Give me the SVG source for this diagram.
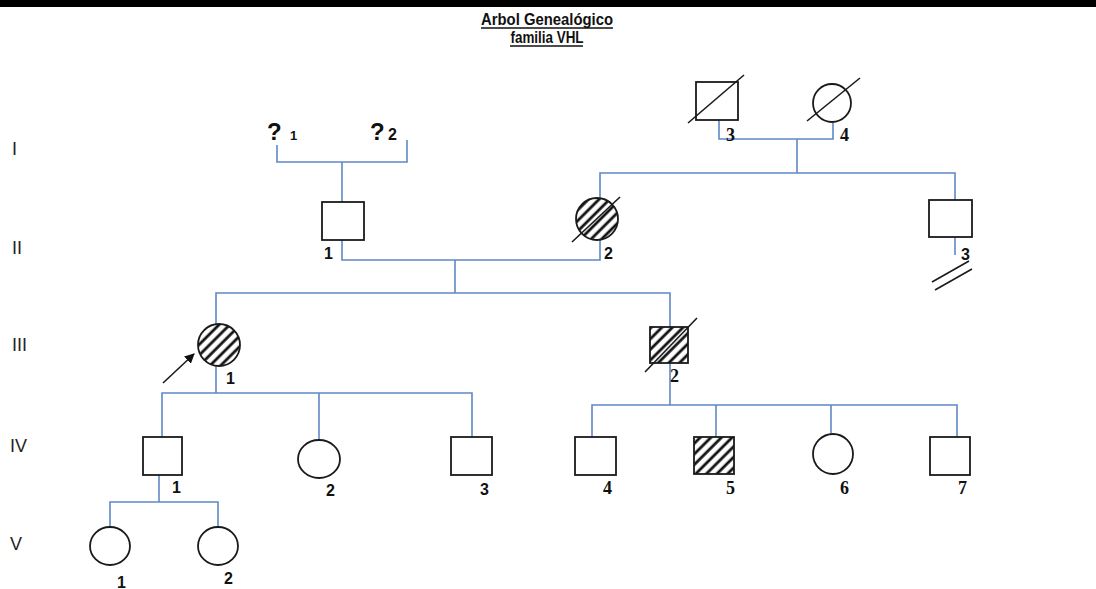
<svg xmlns="http://www.w3.org/2000/svg" width="1096" height="589" viewBox="0 0 1096 589">
  <defs>
    <pattern id="hatch" patternUnits="userSpaceOnUse" width="7.5" height="7.5" patternTransform="rotate(45)">
      <rect width="7.5" height="7.5" fill="#fff"/>
      <line x1="2" y1="0" x2="2" y2="7.5" stroke="#111" stroke-width="2.8"/>
    </pattern>
    <marker id="arrowhead" viewBox="0 0 10 10" refX="9" refY="5" markerWidth="10" markerHeight="10" orient="auto" markerUnits="userSpaceOnUse">
      <path d="M0,0 L10,5 L0,10 z" fill="#111"/>
    </marker>
  </defs>
  <style>
    .ln { stroke: #5f88c6; stroke-width: 1.6; fill: none; }
    .sym { stroke: #1a1a1a; stroke-width: 1.8; fill: #fff; }
    .aff { fill: url(#hatch); }
    .dec { stroke: #1a1a1a; stroke-width: 1.6; }
    .lbl { font-family: "Liberation Sans", Arial, sans-serif; font-weight: bold; font-size: 16px; fill: #111; }
    .lbs { font-family: "Liberation Serif", "Times New Roman", serif; font-weight: bold; font-size: 18px; fill: #111; }
    .q { font-size: 24px; }
    .sub1 { font-size: 13px; }
    .gen { font-family: "Liberation Sans Narrow", "Liberation Sans", Arial, sans-serif; font-size: 18px; fill: #222; }
    .ttl { font-family: "Liberation Sans Narrow", "Liberation Sans", Arial, sans-serif; font-weight: bold; font-size: 16px; fill: #111; }
  </style>

  <rect x="0" y="0" width="1096" height="589" fill="#fff"/>
  <rect x="0" y="0" width="1096" height="7" fill="#000"/>

  <!-- title -->
  <g id="title">
    <text class="ttl" x="547" y="25" text-anchor="middle" textLength="132" lengthAdjust="spacingAndGlyphs">Arbol Genealógico</text>
    <line x1="481" y1="28" x2="613" y2="28" stroke="#111" stroke-width="1.4"/>
    <text class="ttl" x="547" y="43" text-anchor="middle" textLength="73" lengthAdjust="spacingAndGlyphs">familia VHL</text>
    <line x1="510" y1="46" x2="583" y2="46" stroke="#111" stroke-width="1.4"/>
  </g>

  <!-- generation numerals -->
  <g id="generations">
    <text class="gen" x="12" y="155">I</text>
    <text class="gen" x="12" y="254">II</text>
    <text class="gen" x="12" y="351">III</text>
    <text class="gen" x="10" y="452">IV</text>
    <text class="gen" x="10" y="550">V</text>
  </g>

  <!-- lines of descent -->
  <g id="connectors">
    <path class="ln" d="M277,145 V162 H407 V140"/>
    <path class="ln" d="M342,162 V202"/>
    <path class="ln" d="M719,120 V139 H833 V123"/>
    <path class="ln" d="M797,139 V173"/>
    <path class="ln" d="M600,198 V173 H955 V200"/>
    <path class="ln" d="M342,240 V260 H600 V239"/>
    <path class="ln" d="M455,260 V293"/>
    <path class="ln" d="M216,324 V293 H670 V327"/>
    <path class="ln" d="M955,237 V255"/>
    <path class="ln" d="M216,366 V393"/>
    <path class="ln" d="M162,437 V393 H472 V437"/>
    <path class="ln" d="M319,393 V440"/>
    <path class="ln" d="M670,363 V405"/>
    <path class="ln" d="M592,437 V405 H957 V437"/>
    <path class="ln" d="M716,405 V437"/>
    <path class="ln" d="M831,405 V435"/>
    <path class="ln" d="M159,475 V502"/>
    <path class="ln" d="M110,527 V502 H218 V527"/>
  </g>

  <!-- generation I -->
  <g id="I-1">
    <text class="lbl q" x="267" y="140">?</text>
    <text class="lbl sub1" x="290" y="140">1</text>
  </g>
  <g id="I-2">
    <text class="lbl q" x="370" y="140">?</text>
    <text class="lbl" x="388" y="140">2</text>
  </g>
  <g id="I-3">
    <rect class="sym" x="696" y="82" width="42" height="38"/>
    <line class="dec" x1="688" y1="123" x2="744" y2="75"/>
    <text class="lbs" x="726" y="141">3</text>
  </g>
  <g id="I-4">
    <circle class="sym" cx="832" cy="103" r="19"/>
    <line class="dec" x1="807" y1="121" x2="860" y2="78"/>
    <text class="lbs" x="840" y="141">4</text>
  </g>

  <!-- generation II -->
  <g id="II-1">
    <rect class="sym" x="322" y="202" width="42" height="38"/>
    <text class="lbl" x="324" y="259">1</text>
  </g>
  <g id="II-2">
    <circle class="sym aff" cx="597" cy="219" r="21"/>
    <line class="dec" x1="572" y1="242" x2="620" y2="197"/>
    <text class="lbl" x="604" y="259">2</text>
  </g>
  <g id="II-3">
    <rect class="sym" x="929" y="200" width="43" height="37"/>
    <text class="lbl" x="961" y="260">3</text>
    <line class="dec" x1="932" y1="282" x2="969" y2="261"/>
    <line class="dec" x1="935" y1="290" x2="972" y2="269"/>
  </g>

  <!-- generation III -->
  <g id="III-1">
    <circle class="sym aff" cx="219" cy="345" r="21"/>
    <line class="dec" x1="163" y1="383" x2="194" y2="354" marker-end="url(#arrowhead)"/>
    <text class="lbl" x="226" y="384">1</text>
  </g>
  <g id="III-2">
    <rect class="sym aff" x="650" y="327" width="38" height="36"/>
    <line class="dec" x1="645" y1="372" x2="697" y2="318"/>
    <text class="lbs" x="670" y="382">2</text>
  </g>

  <!-- generation IV -->
  <g id="IV-1">
    <rect class="sym" x="143" y="437" width="39" height="38"/>
    <text class="lbl" x="172" y="493">1</text>
  </g>
  <g id="IV-2">
    <ellipse class="sym" cx="319" cy="459" rx="21" ry="19"/>
    <text class="lbl" x="326" y="496">2</text>
  </g>
  <g id="IV-3">
    <rect class="sym" x="451" y="437" width="41" height="38"/>
    <text class="lbl" x="480" y="495">3</text>
  </g>
  <g id="IV-4">
    <rect class="sym" x="575" y="437" width="41" height="38"/>
    <text class="lbs" x="603" y="494">4</text>
  </g>
  <g id="IV-5">
    <rect class="sym aff" x="694" y="437" width="40" height="37"/>
    <text class="lbs" x="726" y="494">5</text>
  </g>
  <g id="IV-6">
    <circle class="sym" cx="833" cy="454" r="20"/>
    <text class="lbs" x="840" y="494">6</text>
  </g>
  <g id="IV-7">
    <rect class="sym" x="930" y="437" width="40" height="38"/>
    <text class="lbs" x="958" y="494">7</text>
  </g>

  <!-- generation V -->
  <g id="V-1">
    <ellipse class="sym" cx="110" cy="546" rx="20" ry="19"/>
    <text class="lbl" x="117" y="588">1</text>
  </g>
  <g id="V-2">
    <ellipse class="sym" cx="218" cy="546" rx="20" ry="19"/>
    <text class="lbl" x="224" y="584">2</text>
  </g>
</svg>
